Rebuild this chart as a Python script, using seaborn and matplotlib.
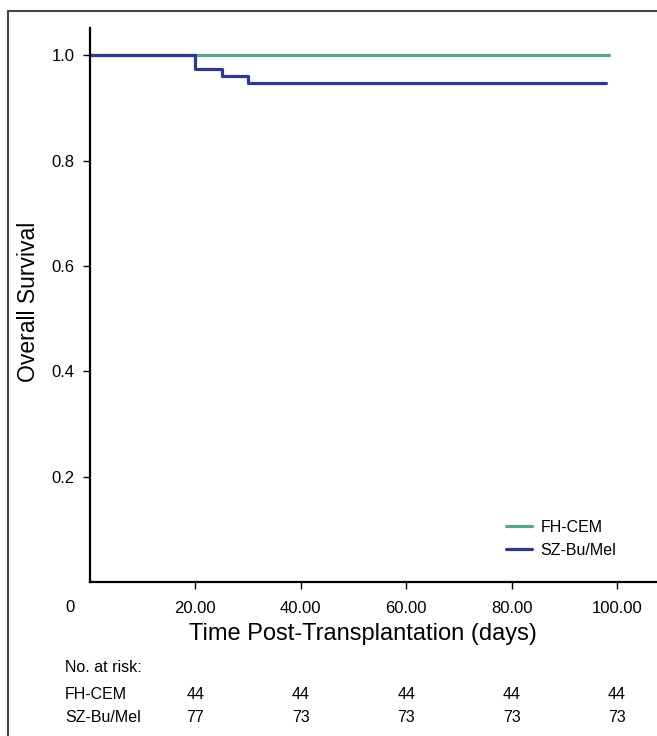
import numpy as np
import pandas as pd
import seaborn as sns
from matplotlib import pyplot as plt
from matplotlib.lines import Line2D
import matplotlib.transforms as mtransforms

# Kaplan-Meier step data
groups = ['FH-CEM', 'SZ-Bu/Mel']
fh_time = [0, 98.4]
fh_surv = [1.0, 1.0]
sz_time = [0, 20, 25, 30, 97.9]
sz_surv = [1.0, 0.974, 0.961, 0.948, 0.948]
colors = ['#5aa58a', '#2e3990']

x_ticks = [20, 40, 60, 80, 100]
x_tick_labels = ['20.00', '40.00', '60.00', '80.00', '100.00']
y_ticks = [0.2, 0.4, 0.6, 0.8, 1.0]
risk_times = [20, 40, 60, 80, 100]
risk_fh = [44, 44, 44, 44, 44]
risk_sz = [77, 73, 73, 73, 73]

sns.set_style('ticks')
plt.rcParams['font.family'] = ['Liberation Sans', 'DejaVu Sans']
plt.rcParams['text.color'] = 'black'
plt.rcParams['axes.labelcolor'] = 'black'

df = pd.concat([
    pd.DataFrame({'time': fh_time, 'surv': fh_surv, 'group': groups[0]}),
    pd.DataFrame({'time': sz_time, 'surv': sz_surv, 'group': groups[1]}),
])

fig = plt.figure(figsize=(6.57, 7.36), dpi=100)
ax = fig.add_axes([90 / 657, 1 - 582 / 736, 1 - 90 / 657, (582 - 28) / 736])

sns.lineplot(data=df, x='time', y='surv', hue='group', palette=colors,
             drawstyle='steps-post', linewidth=2.3, estimator=None, ax=ax,
             legend=False)

ax.set_xlim(0, 107.6)
ax.set_ylim(0, 1.052)
ax.set_xticks(x_ticks)
ax.set_xticklabels(x_tick_labels, fontsize=12)
ax.set_yticks(y_ticks)
ax.set_yticklabels(['%.1f' % v for v in y_ticks], fontsize=12)
ax.tick_params(axis='x', direction='out', length=5, width=1, pad=9, colors='black')
ax.tick_params(axis='y', direction='out', length=5, width=1, pad=6, colors='black')
sns.despine(ax=ax, top=True, right=True)
for side in ['left', 'bottom']:
    ax.spines[side].set_linewidth(1.6)
    ax.spines[side].set_color('black')
ax.set_xlabel('Time Post-Transplantation (days)', fontsize=17)
ax.xaxis.set_label_coords((363 - 90) / 567, (582 - 623) / 554)
ax.set_ylabel('Overall Survival', fontsize=16.5)
ax.yaxis.set_label_coords((40 - 90) / 567, (582 - 302) / 554)
fig.text(69.5 / 657, 1 - 607 / 736, '0', fontsize=12, ha='center', va='center')

handles = [Line2D([0], [0], color=c, lw=2.3) for c in colors]
ax.legend(handles, groups, loc='upper left', bbox_to_anchor=(506 / 657, 1 - 520 / 736),
          bbox_transform=fig.transFigure, frameon=False, fontsize=11.5,
          handlelength=1.6, handletextpad=0.55, labelspacing=0.5,
          borderpad=0, borderaxespad=0)

# number at risk table
trans = mtransforms.blended_transform_factory(ax.transData, fig.transFigure)
fig.text(65 / 657, 1 - 667.5 / 736, 'No. at risk:', fontsize=11.5, va='center')
fig.text(65 / 657, 1 - 694.5 / 736, groups[0], fontsize=11.5, va='center')
fig.text(65 / 657, 1 - 718 / 736, groups[1], fontsize=11.5, va='center')
for t, a, b in zip(risk_times, risk_fh, risk_sz):
    ax.text(t, 1 - 694.5 / 736, str(a), transform=trans, fontsize=11.5,
            ha='center', va='center', clip_on=False)
    ax.text(t, 1 - 718 / 736, str(b), transform=trans, fontsize=11.5,
            ha='center', va='center', clip_on=False)

# outer frame (top and left only visible)
fig.add_artist(Line2D([8 / 657, 8 / 657], [0, 1 - 11 / 736], transform=fig.transFigure,
                      color='#444444', lw=1.5))
fig.add_artist(Line2D([8 / 657, 1], [1 - 11 / 736, 1 - 11 / 736], transform=fig.transFigure,
                      color='#444444', lw=1.5))

fig.savefig('out.png', dpi=100)
